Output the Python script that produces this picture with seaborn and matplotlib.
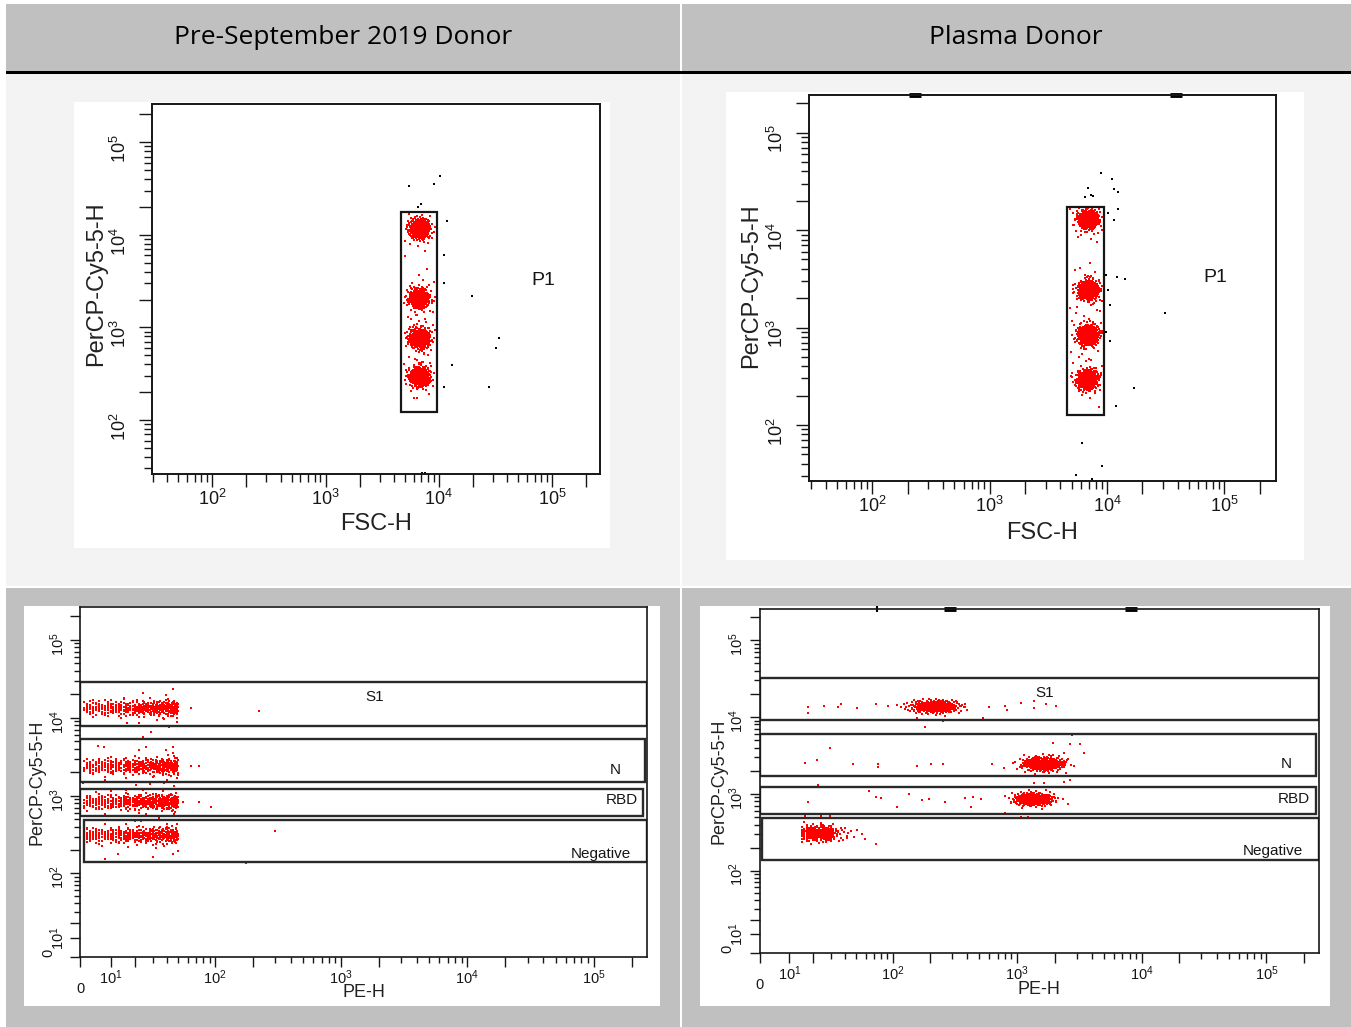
import numpy as np
import pandas as pd
import matplotlib
matplotlib.use("Agg")
import matplotlib.pyplot as plt
from matplotlib.patches import Rectangle
from matplotlib.ticker import FixedLocator, FuncFormatter
from matplotlib.transforms import ScaledTranslation
from statistics import NormalDist
import seaborn as sns

sns.set_style("white")
plt.rcParams["font.family"] = ["Liberation Sans", "DejaVu Sans"]
plt.rcParams["mathtext.fontset"] = "custom"
plt.rcParams["mathtext.rm"] = "Liberation Sans"
plt.rcParams["mathtext.it"] = "Liberation Sans:italic"
plt.rcParams["mathtext.bf"] = "Liberation Sans:bold"

# ------------------------------------------------------------------ data
donor_titles = ["Pre-September 2019 Donor", "Plasma Donor"]

# Top row: bead populations on FSC-H vs PerCP-Cy5-5-H
bead_fsc_pre = [6770, 6750, 6750, 6770]
bead_percp_pre = [11700, 2060, 762, 294]
bead_fsc_plasma = [6900, 6950, 6880, 6860]
bead_percp_plasma = [12900, 2430, 840, 290]
bead_events = [430, 420, 460, 440]

# P1 gate: FSC-H low/high, PerCP low/high
p1_gate_pre = [4670, 9570, 123, 17500]
p1_gate_plasma = [4570, 9440, 127, 17400]
p1_label_pre = [83800, 3250]
p1_label_plasma = [83800, 3230]

# events outside P1
outside_fsc_pre = [5500, 9090, 10300, 6540, 7010, 11700, 11200, 11200, 19700,
                   34000, 31800, 13200, 11200, 28000, 7110, 7530]
outside_percp_pre = [33700, 35400, 43100, 20100, 21300, 14200, 6050, 2990, 2200,
                     769, 594, 395, 229, 229, 27, 27]
outside_fsc_plasma = [8910, 10900, 11400, 12500, 6920, 6520, 7290, 7570, 12400,
                      10200, 11400, 9800, 12200, 14200, 10200, 10500, 9800, 10500,
                      16800, 11800, 31300, 6140, 8980, 5430, 7450]
outside_percp_plasma = [38900, 33300, 26300, 24800, 26900, 22100, 23000, 22400, 16400,
                        14900, 12700, 3470, 3280, 3130, 2430, 1710, 908, 734,
                        238, 157, 1400, 66, 38, 31, 28]
# events piled on the upper edge of the range
edge_fsc_plasma = [229, 38900]
edge_pe_plasma = [290, 8210]
edge_pe_plasma_thin = [74]

# Bottom row: antigen-specific bead populations, PE-H vs PerCP-Cy5-5-H
gate_names = ["S1", "N", "RBD", "Negative"]
gate_low_pre = [7810, 1500, 545, 139]
gate_high_pre = [28600, 5330, 1236, 495]
gate_left_pre = [0, 0, 0, 1.0]
gate_right_pre = [262144, 255000, 245000, 262144]
gate_label_pe_pre = [1855, 149600, 167000, 113400]
gate_label_percp_pre = [18380, 2119, 893, 181]

gate_low_plasma = [9140, 1712, 543, 138]
gate_high_plasma = [32100, 6010, 1242, 491]
gate_left_plasma = [0, 0, 0, 0.9]
gate_right_plasma = [262144, 249700, 249700, 262144]
gate_label_pe_plasma = [1669, 143000, 165500, 111700]
gate_label_percp_plasma = [20700, 2450, 859, 181]

# pre-2019 donor: every population sits at background PE
band_pe_low_pre = [1, 1, 1, 1]
band_pe_high_pre = [50, 50, 50, 50]
band_percp_pre = [13290, 2386, 832, 311]
band_events_pre = [380, 420, 430, 420]
stray_pe_pre = [64, 224, 64, 74, 55, 74, 92, 302, 175, 5.5, 7.6, 22, 26, 45, 45,
                20.5, 28, 38, 29, 41.7, 16.5, 22, 37, 20, 0.9, 12.8, 30, 45, 6.9]
stray_percp_pre = [13500, 12400, 2400, 2400, 830, 830, 717, 354, 135, 4300, 4250,
                   3900, 4250, 4250, 3500, 1370, 1400, 1450, 6670, 7590, 8530, 8530,
                   485, 480, 1450, 181, 164, 181, 225]

# plasma donor: S1, N and RBD populations shifted up in PE
pop_pe_plasma = [220, 1633, 1358]
pop_percp_plasma = [13640, 2450, 851]
pop_pe_spread = [0.095, 0.08, 0.075]
pop_percp_spread = [0.04, 0.045, 0.04]
pop_events_plasma = [380, 420, 400]
neg_pe_range_plasma = [15, 31]
neg_percp_plasma = 307
neg_events_plasma = 330
stray_pe_plasma = [17.8, 17.8, 25.7, 34.7, 37, 50.5, 72.6, 90.9, 108, 135, 158, 184,
                   255, 385, 536, 600, 807, 830, 1086, 1357, 1357, 1697, 2045,
                   16.3, 21.8, 29.1, 46.6, 75.9, 75.9, 158, 205, 255, 635, 790,
                   1950, 2370, 2647, 3186, 3431, 2370, 2647, 1357, 1660, 2750,
                   17.8, 22.3, 63.6, 72.6, 81, 108, 135, 172, 197, 262, 380, 429,
                   445, 515, 807, 2550, 1086, 1220,
                   59, 72.6, 16.3, 24, 29.1]
stray_percp_plasma = [13640, 11400, 13900, 13640, 14800, 13000, 14800, 13900, 14300,
                      13900, 9640, 7480, 8800, 13640, 9600, 13640, 13900, 12400,
                      15400, 16300, 13000, 14800, 13900,
                      2500, 2760, 3920, 2450, 2450, 2270, 2330, 2450, 2450, 2450,
                      2200, 4550, 3440, 4400, 4450, 3440, 1443, 1500, 1400, 1400, 5840,
                      778, 1309, 1103, 921, 880, 683, 1000, 840, 860, 778, 880, 683,
                      921, 851, 560, 740, 507, 507,
                      257, 223, 520, 510, 520]

# ------------------------------------------------------------------ helpers
A = 0.058
LN10 = np.log(10.0)
STD_NORMAL = NormalDist()


def fwd(v):
    return np.arcsinh(A * np.asarray(v, dtype=float)) / LN10


def inv(v):
    return np.sinh(np.asarray(v, dtype=float) * LN10) / A


def radical_inverse(k, base):
    k = np.asarray(k, dtype=np.int64).copy()
    out = np.zeros(k.shape)
    f = 1.0 / base
    while np.any(k > 0):
        out += f * (k % base)
        k //= base
        f /= base
    return out


def halton(n, start):
    k = np.arange(start, start + n) + 1
    return [radical_inverse(k, b) for b in (2, 3, 5)]


def normal_scores(u):
    u = np.clip(u, 1e-3, 1 - 1e-3)
    return np.array([STD_NORMAL.inv_cdf(p) for p in u])


def gauss(n, start):
    u, v, w = halton(n, start)
    return normal_scores(u), normal_scores(v), w


def log_cloud(cx, cy, sx, sy, n, start):
    gx, gy, _ = gauss(n, start)
    return 10 ** (np.log10(cx) + sx * gx), 10 ** (np.log10(cy) + sy * gy)


def asinh_cloud(cx, cy, sx, sy, n, start):
    gx, gy, _ = gauss(n, start)
    return inv(fwd(cx) + sx * gx), inv(fwd(cy) + sy * gy)


def channel_band(lo, hi, cy, sy, n, start):
    _, gy, w = gauss(n, start)
    return np.round(lo + (hi - lo) * w), inv(fwd(cy) + sy * gy)


def decade_label(v, pos):
    if v == 0:
        return "0"
    e = int(round(np.log10(v)))
    if abs(v - 10 ** e) < 1e-6 * v:
        return r"$10^{%d}$" % e
    return ""


def log_ticks(lo, hi):
    major = [m * 10.0 ** e for e in range(0, 7) for m in (1, 2) if lo <= m * 10.0 ** e <= hi]
    minor = [m * 10.0 ** e for e in range(0, 7) for m in range(3, 10) if lo <= m * 10.0 ** e <= hi]
    return major, minor


INK = "#161616"


def style_axes(ax, lw, major_len, minor_len, tick_fs, xpad, ypad):
    for sp in ax.spines.values():
        sp.set_visible(True)
        sp.set_color(INK)
        sp.set_linewidth(lw)
    ax.tick_params(which="major", direction="out", length=major_len, width=1.0,
                   color=INK, labelsize=tick_fs, labelcolor=INK,
                   bottom=True, left=True, top=False, right=False)
    ax.tick_params(which="minor", direction="out", length=minor_len, width=1.0,
                   color=INK, bottom=True, left=True, top=False, right=False)
    ax.tick_params(axis="x", pad=xpad)
    ax.tick_params(axis="y", pad=ypad, labelrotation=90)
    ax.set_facecolor("white")
    ax.grid(False)


def set_axis_ticks(axis, lo, hi, with_zero):
    if with_zero:
        major, minor = log_ticks(10.0, hi)
        major = [0.0] + major
    else:
        major, minor = log_ticks(lo, hi)
    axis.set_major_locator(FixedLocator(major))
    axis.set_minor_locator(FixedLocator(minor))
    axis.set_major_formatter(FuncFormatter(decade_label))


# ------------------------------------------------------------------ figure
W, H = 1351.0, 1027.0
fig = plt.figure(figsize=(13.51, 10.27), dpi=100)
fig.patch.set_facecolor("white")


def frac(l, t, r, b):
    return [l / W, 1 - b / H, (r - l) / W, (b - t) / H]


bg = fig.add_axes([0, 0, 1, 1], zorder=-5)
bg.set_xlim(0, W)
bg.set_ylim(H, 0)
bg.axis("off")

GREY = "#c0c0c0"
PALE = "#f3f3f3"
for x0, x1 in [(6, 680), (682, 1351)]:
    bg.add_patch(Rectangle((x0, 4), x1 - x0, 67, color=GREY, lw=0))
    bg.add_patch(Rectangle((x0, 74), x1 - x0, 512, color=PALE, lw=0))
    bg.add_patch(Rectangle((x0, 588), x1 - x0, 439, color=GREY, lw=0))
bg.add_patch(Rectangle((6, 71), 1345, 2.6, color="black", lw=0))
for l, t, r, b in [(74, 102, 610, 548), (726, 92, 1304, 560),
                   (24, 606, 660, 1006), (700, 606, 1330, 1006)]:
    bg.add_patch(Rectangle((l, t), r - l, b - t, color="white", lw=0))

for cx, title in zip([343, 1016], donor_titles):
    bg.text(cx, 38, title, ha="center", va="center", fontsize=19,
            family=["Open Sans", "DejaVu Sans"], color="black")

RED = "#ff0000"


# ------------------------------------------------------------------ top row
def draw_top(rect, fsc_c, percp_c, sx, sy, gate, p1_xy, out_x, out_y,
             xlim, ylim, seed, edge_x=None):
    ax = fig.add_axes(frac(*rect))
    ax.set_xscale("log")
    ax.set_yscale("log")
    xs, ys = [], []
    for i, (cx, cy, n) in enumerate(zip(fsc_c, percp_c, bead_events)):
        x, y = log_cloud(cx, cy, sx, sy, n, seed + 1000 * i)
        xs.append(x); ys.append(y)
        x, y = log_cloud(cx, cy, sx * 2.0, sy * 2.6, 45, seed + 1000 * i + 600)
        xs.append(x); ys.append(y)
    x = np.concatenate(xs)
    y = np.concatenate(ys)
    keep = (x > gate[0] * 1.04) & (x < gate[1] * 0.97) & (y > gate[2]) & (y < gate[3])
    gated = pd.DataFrame({"FSC-H": x[keep], "PerCP-Cy5-5-H": y[keep]})
    others = pd.DataFrame({"FSC-H": out_x, "PerCP-Cy5-5-H": out_y})
    sns.scatterplot(data=gated, x="FSC-H", y="PerCP-Cy5-5-H", ax=ax, color=RED,
                    marker="s", s=3.0, linewidth=0, legend=False)
    sns.scatterplot(data=others, x="FSC-H", y="PerCP-Cy5-5-H", ax=ax, color="black",
                    marker="s", s=3.2, linewidth=0, legend=False, clip_on=False)
    if edge_x is not None:
        ax.plot(edge_x, [ylim[1]] * len(edge_x), ls="none", marker="_", ms=9,
                mew=3.5, color="black", clip_on=False)
    ax.add_patch(Rectangle((gate[0], gate[2]), gate[1] - gate[0], gate[3] - gate[2],
                           fill=False, edgecolor=INK, lw=1.6))
    ax.text(p1_xy[0], p1_xy[1], "P1", ha="center", va="center", fontsize=14, color=INK)
    ax.set_xlim(*xlim)
    ax.set_ylim(*ylim)
    style_axes(ax, 1.4, 9.5, 6.0, 13, 1.5, 6)
    set_axis_ticks(ax.xaxis, *xlim, with_zero=False)
    set_axis_ticks(ax.yaxis, *ylim, with_zero=False)
    ax.set_xlabel("FSC-H", fontsize=17, color="#222222")
    ax.set_ylabel("PerCP-Cy5-5-H", fontsize=17, color="#222222")
    return ax


ax_tl = draw_top((152, 104, 600, 474), bead_fsc_pre, bead_percp_pre, 0.042, 0.05,
                 p1_gate_pre, p1_label_pre, outside_fsc_pre, outside_percp_pre,
                 (29.3, 265000), (26.1, 259000), 11)
ax_tl.xaxis.set_label_coords(0.5, -0.105)
ax_tl.yaxis.set_label_coords(-0.100, 0.515)

ax_tr = draw_top((809, 94.7, 1276, 481), bead_fsc_plasma, bead_percp_plasma, 0.043, 0.047,
                 p1_gate_plasma, p1_label_plasma, outside_fsc_plasma, outside_percp_plasma,
                 (28.8, 275000), (26.6, 245000), 5023, edge_x=edge_fsc_plasma)
ax_tr.xaxis.set_label_coords(0.5, -0.105)
ax_tr.yaxis.set_label_coords(-0.100, 0.505)


# ------------------------------------------------------------------ bottom row
def nudge(text, dx_px, dy_px):
    text.set_transform(text.get_transform() +
                       ScaledTranslation(dx_px / 100.0, dy_px / 100.0, fig.dpi_scale_trans))


def draw_bottom(rect, frames, strays, gates, labels, ylim_top, edge_x=None, edge_thin=None):
    ax = fig.add_axes(frac(*rect))
    ax.set_xscale("function", functions=(fwd, inv))
    ax.set_yscale("function", functions=(fwd, inv))
    events = pd.concat(frames + [strays], ignore_index=True)
    sns.scatterplot(data=events, x="PE-H", y="PerCP-Cy5-5-H", ax=ax, color=RED,
                    marker="s", s=2.2, linewidth=0, legend=False)
    if edge_x is not None:
        ax.plot(edge_x, [ylim_top] * len(edge_x), ls="none", marker="_", ms=8,
                mew=3.5, color="black", clip_on=False)
    if edge_thin is not None:
        ax.plot(edge_thin, [ylim_top] * len(edge_thin), ls="none", marker="|", ms=4,
                mew=1.5, color="black", clip_on=False)
    lo, hi, left, right = gates
    for y0, y1, x0, x1 in zip(lo, hi, left, right):
        ax.add_patch(Rectangle((x0, y0), x1 - x0, y1 - y0, fill=False,
                               edgecolor="#2a2a2a", lw=1.7))
    for name, lx, ly in zip(gate_names, *labels):
        ax.text(lx, ly, name, ha="center", va="center", fontsize=11, color=INK)
    ax.set_xlim(0, 262144)
    ax.set_ylim(0, ylim_top)
    style_axes(ax, 1.2, 7, 4.5, 10.5, 1.5, 3.0)
    set_axis_ticks(ax.xaxis, 0, 262144, with_zero=True)
    set_axis_ticks(ax.yaxis, 0, ylim_top, with_zero=True)
    xt = ax.xaxis.get_major_ticks()
    xt[0].tick1line.set_markersize(10.5)
    xt[0].set_pad(11)
    yt = ax.yaxis.get_major_ticks()
    yt[0].tick1line.set_markersize(10)
    yt[0].set_pad(11)
    nudge(yt[0].label1, 0, 2)
    nudge(yt[1].label1, 0, 4)
    ax.set_xlabel("PE-H", fontsize=13, color="#222222")
    ax.set_ylabel("PerCP-Cy5-5-H", fontsize=13, color="#222222")
    return ax


def frame(x, y):
    return pd.DataFrame({"PE-H": x, "PerCP-Cy5-5-H": y})


pre_frames = []
for i in range(4):
    x, y = channel_band(band_pe_low_pre[i], band_pe_high_pre[i], band_percp_pre[i],
                        0.048, band_events_pre[i], 31 + 900 * i)
    pre_frames.append(frame(x, y))
    x, y = channel_band(band_pe_low_pre[i], band_pe_high_pre[i], band_percp_pre[i],
                        0.12, 30, 31 + 900 * i + 500)
    pre_frames.append(frame(x, y))

ax_bl = draw_bottom((80.4, 607.3, 646.5, 956.7), pre_frames,
                    frame(stray_pe_pre, stray_percp_pre),
                    (gate_low_pre, gate_high_pre, gate_left_pre, gate_right_pre),
                    (gate_label_pe_pre, gate_label_percp_pre), 262144)
ax_bl.xaxis.set_label_coords(0.5, -0.078)
ax_bl.yaxis.set_label_coords(-0.062, 0.5)

plasma_frames = []
for i in range(3):
    x, y = asinh_cloud(pop_pe_plasma[i], pop_percp_plasma[i], pop_pe_spread[i],
                       pop_percp_spread[i], pop_events_plasma[i], 57 + 900 * i)
    plasma_frames.append(frame(x, y))
x, y = channel_band(neg_pe_range_plasma[0], neg_pe_range_plasma[1], neg_percp_plasma,
                    0.05, neg_events_plasma, 4000)
plasma_frames.append(frame(x, y))
x, y = asinh_cloud(32, neg_percp_plasma, 0.09, 0.05, 45, 4700)
plasma_frames.append(frame(x, y))

ax_br = draw_bottom((759.5, 609, 1318.7, 952.7), plasma_frames,
                    frame(stray_pe_plasma, stray_percp_plasma),
                    (gate_low_plasma, gate_high_plasma, gate_left_plasma, gate_right_plasma),
                    (gate_label_pe_plasma, gate_label_percp_plasma), 253600,
                    edge_x=edge_pe_plasma, edge_thin=edge_pe_plasma_thin)
ax_br.xaxis.set_label_coords(0.5, -0.082)
ax_br.yaxis.set_label_coords(-0.058, 0.5)

fig.savefig("out.png", dpi=100)
